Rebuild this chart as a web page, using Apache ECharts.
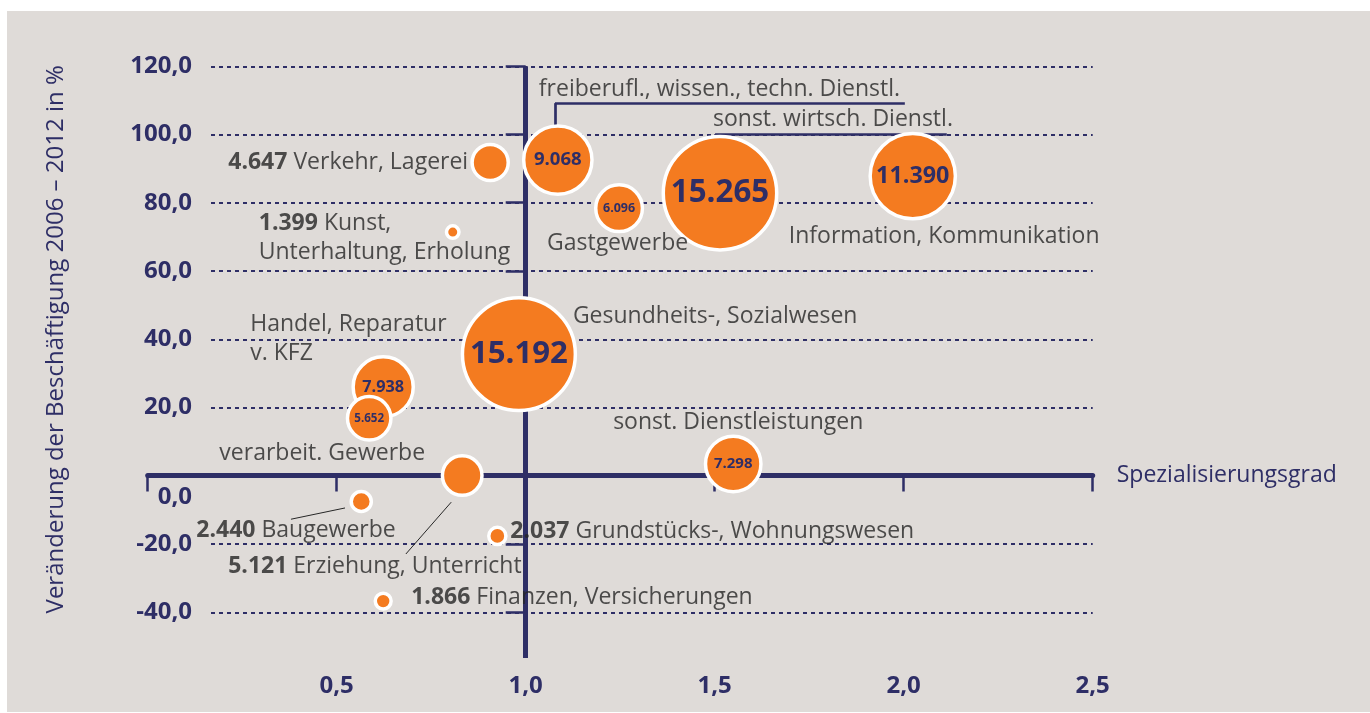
<!DOCTYPE html>
<html><head><meta charset="utf-8">
<script src="https://cdn.jsdelivr.net/npm/echarts@6/dist/echarts.min.js"></script>
<style>
html,body{margin:0;padding:0;background:#ffffff;}
#bg{position:absolute;left:7px;top:11px;width:1363px;height:701px;background:#dfdbd8;}
#chart{position:absolute;left:0;top:0;width:1370px;height:713px;}
</style></head><body><div id="bg"></div><div id="chart"></div>
<script>
// ---- data ----
const sectors = ['Verkehr, Lagerei', 'Kunst,\nUnterhaltung, Erholung', 'freiberufl., wissen., techn. Dienstl.',
  'sonst. wirtsch. Dienstl.', 'Gastgewerbe', 'Information, Kommunikation', 'Gesundheits-, Sozialwesen',
  'Handel, Reparatur\nv. KFZ', 'verarbeit. Gewerbe', 'sonst. Dienstleistungen', 'Erziehung, Unterricht',
  'Baugewerbe', 'Grundstücks-, Wohnungswesen', 'Finanzen, Versicherungen'];
const spezialisierungsgrad = [0.906, 0.807, 1.085, 1.514, 1.247, 2.024, 0.982, 0.623, 0.586, 1.549, 0.832, 0.565, 0.925, 0.623];
const veraenderung = [91.8, 71.4, 92.5, 82.8, 78.4, 87.8, 35.6, 26.0, 16.8, 3.4, 0.0, -7.6, -17.7, -36.8];
const beschaeftigte = [4647, 1399, 9068, 15265, 6096, 11390, 15192, 7938, 5652, 7298, 5121, 2440, 2037, 1866];
const xTickValues = [0, 0.5, 1.0, 1.5, 2.0, 2.5];
const xTickLabelValues = [0.5, 1.0, 1.5, 2.0, 2.5];
const yTickValues = [-40, -20, 0, 20, 40, 60, 80, 100, 120];
const crossTickValues = [-40, -20, 20, 40, 60, 80, 100, 120];
// leader lines (data coordinates) : [x1, y1, x2, y2]
const leaderLinesBold = [[1.0775, 99.9, 1.0775, 109.2], [1.0775, 109.2, 2.003, 109.2],
  [1.501, 93.5, 1.501, 100.1], [1.501, 100.1, 2.114, 100.1]];
const leaderLinesThin = [[0.379, -12.8, 0.522, -9.5], [0.803, -7.8, 0.683, -23.0]];
const crossLine = [1.0, 120, 1.0, -53.5];

// ---- styles / label placement (pixel offsets from bubble centre) ----
const NAVY = '#2e2e66', ORANGE = '#f47b20', TEXT = '#262626';
const FONT = '"Open Sans", "Noto Sans", sans-serif';
const NAME_SIZE = 23;
const labelPlacement = [
  {align: 'right', dx: -22, dy: 0},
  {align: 'left', dx: -194, dy: 6},
  {align: 'left', dx: -19, dy: -71},
  {align: 'left', dx: -7, dy: -74},
  {align: 'center', dx: -1.5, dy: 35},
  {align: 'left', dx: -124, dy: 60},
  {align: 'left', dx: 54, dy: -38},
  {align: 'left', dx: -133, dy: -48},
  {align: 'center', dx: -47, dy: 35},
  {align: 'center', dx: 5, dy: -42},
  {align: 'left', dx: -234, dy: 91},
  {align: 'left', dx: -165, dy: 29},
  {align: 'left', dx: 13, dy: -4},
  {align: 'left', dx: 28, dy: -4}
];
const INSIDE_MIN = 5500;
const fmtThousands = n => String(n).replace(/\B(?=(\d{3})+(?!\d))/g, '.');
const fmtDec = v => v.toFixed(1).replace('.', ',');

const bubbleData = sectors.map((s, i) => ({
  name: s,
  value: [spezialisierungsgrad[i], veraenderung[i], beschaeftigte[i]],
  label: {
    show: beschaeftigte[i] >= INSIDE_MIN,
    fontSize: 2.05 * beschaeftigte[i] / 1000
  }
}));
const nameData = sectors.map((s, i) => {
  const p = labelPlacement[i];
  const txt = beschaeftigte[i] < INSIDE_MIN ? '{b|' + fmtThousands(beschaeftigte[i]) + '} ' + s : s;
  return {
    name: s,
    value: [spezialisierungsgrad[i], veraenderung[i], beschaeftigte[i]],
    label: {align: p.align, offset: [p.dx, p.dy], formatter: txt}
  };
});
const seg = (a, style) => [{coord: [a[0], a[1]], lineStyle: style}, {coord: [a[2], a[3]]}];
const markLines = [seg(crossLine, {color: NAVY, width: 5, type: 'solid'})]
  .concat(leaderLinesBold.map(a => seg(a, {color: NAVY, width: 2.7, type: 'solid'})))
  .concat(leaderLinesThin.map(a => seg(a, {color: TEXT, width: 1, type: 'solid'})));

const chart = echarts.init(document.getElementById('chart'), null, {renderer: 'canvas'});
chart.setOption({
  animation: false,
  backgroundColor: 'transparent',
  textStyle: {fontFamily: FONT},
  grid: [
    {left: 147.7, right: 277.3, top: 66.3, bottom: 32.8, containLabel: false, outerBoundsMode: 'none'},
    {left: 211, right: 277.3, top: 66.3, bottom: 100.7, containLabel: false, outerBoundsMode: 'none'},
    {left: 147.7, right: 277.3, top: 66.3, bottom: 41, containLabel: false, outerBoundsMode: 'none'}
  ],
  xAxis: [
    {gridIndex: 0, type: 'value', min: 0, max: 2.5, interval: 0.5,
      axisLine: {show: true, onZero: true, lineStyle: {color: NAVY, width: 5}},
      axisTick: {show: true, length: 16, customValues: xTickValues, lineStyle: {color: NAVY, width: 2.5}},
      axisLabel: {show: false},
      splitLine: {show: false},
      name: 'Spezialisierungsgrad', nameLocation: 'end', nameGap: 24,
      nameTextStyle: {color: NAVY, fontSize: 23, fontFamily: FONT, verticalAlign: 'middle'}},
    {gridIndex: 1, type: 'value', min: 0, max: 1, show: false},
    {gridIndex: 2, type: 'value', min: 0, max: 2.5, interval: 0.5, position: 'bottom',
      axisLine: {show: false, onZero: false}, axisTick: {show: false}, splitLine: {show: false},
      axisLabel: {show: true, margin: 2, color: NAVY, fontWeight: 'bold', fontSize: 24, fontFamily: FONT,
        customValues: xTickLabelValues, formatter: v => fmtDec(v)}}
  ],
  yAxis: [
    {gridIndex: 0, type: 'value', min: -60, max: 120, interval: 20, position: 'left', offset: -378,
      axisLine: {show: false, onZero: false},
      axisTick: {show: true, length: 20, customValues: crossTickValues,
        lineStyle: {color: NAVY, width: 2.5}},
      axisLabel: {show: false}, splitLine: {show: false}},
    {gridIndex: 1, type: 'value', min: -40, max: 120, interval: 20,
      axisLine: {show: false, onZero: false}, axisTick: {show: false},
      axisLabel: {margin: 19, color: NAVY, fontWeight: 'bold', fontSize: 24, fontFamily: FONT,
        customValues: yTickValues,
        formatter: v => (v === 0 ? '{z|' + fmtDec(v) + '}' : fmtDec(v)),
        rich: {z: {padding: [42, 0, 0, 0], color: NAVY, fontWeight: 'bold', fontSize: 24, fontFamily: FONT}}},
      splitLine: {show: true, lineStyle: {color: NAVY, type: [4, 4], width: 2}},
      name: 'Veränderung der Beschäftigung 2006 – 2012 in %', nameLocation: 'middle', nameGap: 143,
      nameRotate: 90, nameTextStyle: {color: NAVY, fontSize: 24, fontFamily: FONT}},
    {gridIndex: 2, type: 'value', min: 0, max: 1, show: false}
  ],
  series: [
    {type: 'scatter', name: 'Beschäftigte', xAxisIndex: 0, yAxisIndex: 0, z: 3, silent: true,
      data: bubbleData,
      symbolSize: v => 7.28 * v[2] / 1000 + 2.3,
      itemStyle: {color: ORANGE, borderColor: '#ffffff', borderWidth: 3.5, opacity: 1},
      label: {show: true, position: 'inside', color: NAVY, fontWeight: 'bold', fontFamily: FONT,
        formatter: p => fmtThousands(p.value[2])}
    },
    {type: 'scatter', name: 'Branchen', xAxisIndex: 0, yAxisIndex: 0, z: 4, silent: true,
      data: nameData, symbolSize: 1,
      itemStyle: {color: 'rgba(0,0,0,0)'},
      label: {show: true, position: 'inside', verticalAlign: 'middle', color: TEXT, fontSize: NAME_SIZE,
        fontFamily: FONT, lineHeight: 29,
        rich: {b: {fontWeight: 'bold', color: TEXT, fontSize: NAME_SIZE, fontFamily: FONT, lineHeight: 29}}},
      markLine: {silent: true, z: 1, symbol: ['none', 'none'], label: {show: false}, animation: false,
        data: markLines}
    }
  ]
});
</script></body></html>
